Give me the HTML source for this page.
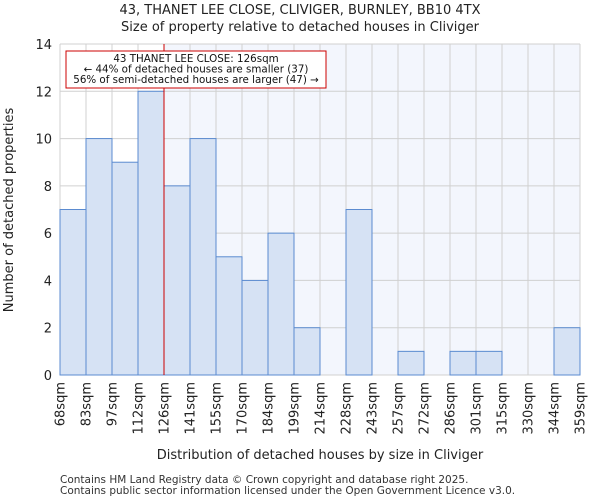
<!DOCTYPE html>
<html><head><meta charset="utf-8"><style>
body{margin:0;background:#fff;font-family:"DejaVu Sans","Liberation Sans",sans-serif;}
</style></head><body>
<svg width="600" height="500" xmlns="http://www.w3.org/2000/svg" font-family="DejaVu Sans, Liberation Sans, sans-serif">
<text x="300" y="14" text-anchor="middle" font-size="13" fill="#222">43, THANET LEE CLOSE, CLIVIGER, BURNLEY, BB10 4TX</text>
<text x="300" y="31" text-anchor="middle" font-size="13" fill="#222">Size of property relative to detached houses in Cliviger</text>
<g id="plot"></g>
<text x="320" y="459" text-anchor="middle" font-size="13" fill="#222">Distribution of detached houses by size in Cliviger</text>
<text transform="translate(13,210) rotate(-90)" text-anchor="middle" font-size="13" fill="#222">Number of detached properties</text>
<text x="60" y="483" font-size="10.5" fill="#333">Contains HM Land Registry data © Crown copyright and database right 2025.</text>
<text x="60" y="494" font-size="10.5" fill="#333">Contains public sector information licensed under the Open Government Licence v3.0.</text>
</svg>
<script>
const categories=["68sqm","83sqm","97sqm","112sqm","126sqm","141sqm","155sqm","170sqm","184sqm","199sqm","214sqm","228sqm","243sqm","257sqm","272sqm","286sqm","301sqm","315sqm","330sqm","344sqm","359sqm"];
const counts=[7,10,9,12,8,10,5,4,6,2,0,7,0,1,0,1,1,0,0,2];
const yTicks=[0,2,4,6,8,10,12,14];
const markerIndex=4;
const X0=60,X1=580,Y0=375,Y1=44,YMAX=14;
const bw=(X1-X0)/counts.length;
const xs=i=>X0+i*bw;
const ys=v=>Y0-(v/YMAX)*(Y0-Y1);
const ns="http://www.w3.org/2000/svg";
const g=document.getElementById('plot');
function mk(t,a){const e=document.createElementNS(ns,t);for(const k in a)e.setAttribute(k,a[k]);g.appendChild(e);return e;}
let e;
e=mk('rect',{x:xs(markerIndex),y:Y1,width:X1-xs(markerIndex),height:Y0-Y1,fill:'#f3f6fd'});


for(let i=0;i<=counts.length;i++){e=mk('line',{x1:xs(i),x2:xs(i),y1:Y1,y2:Y0,stroke:'#d0d0d0','stroke-width':1});

}
yTicks.forEach(t=>{e=mk('line',{x1:X0,x2:X1,y1:ys(t),y2:ys(t),stroke:'#d0d0d0','stroke-width':1});


e=mk('text',{x:X0-8,y:ys(t)+5,'text-anchor':'end','font-size':13,fill:'#222'});e.textContent=t;

});
counts.forEach((v,i)=>{if(v<=0)return;e=mk('rect',{x:xs(i),y:ys(v),width:bw,height:Y0-ys(v),fill:'#d6e2f4',stroke:'#5b8bd0','stroke-width':1});

});
categories.forEach((c,i)=>{const x=xs(i)+4.5;e=mk('text',{transform:`translate(${x},382) rotate(-90)`,'text-anchor':'end','font-size':13,fill:'#222'});e.textContent=c;

});
e=mk('line',{x1:xs(markerIndex),x2:xs(markerIndex),y1:Y1,y2:Y0,stroke:'#cc0000','stroke-width':1});


e=mk('rect',{x:66,y:51,width:260,height:37,fill:'#fff',stroke:'#cc0000','stroke-width':1});


["43 THANET LEE CLOSE: 126sqm","← 44% of detached houses are smaller (37)","56% of semi-detached houses are larger (47) →"].forEach((s,k)=>{e=mk('text',{x:196,y:62+k*10.5,'text-anchor':'middle','font-size':10.3,fill:'#111'});e.textContent=s;

});
</script>
</body></html>
